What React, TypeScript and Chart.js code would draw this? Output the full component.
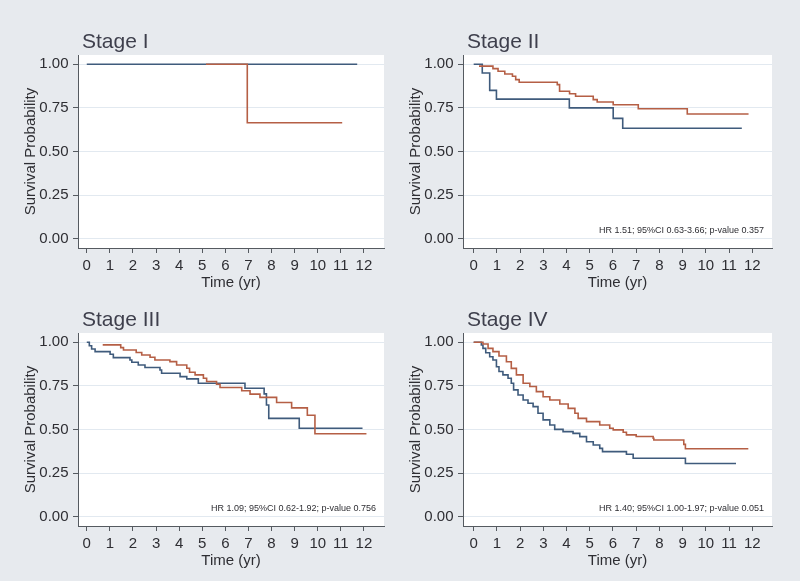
import React, { useEffect, useRef } from 'react';
import { Chart, registerables } from 'chart.js';

Chart.register(...registerables);

// ---------- data ----------
const X_TICKS = [0, 1, 2, 3, 4, 5, 6, 7, 8, 9, 10, 11, 12];
const Y_TICKS = [0, 0.25, 0.5, 0.75, 1];

const PANEL_TITLES = ['Stage I', 'Stage II', 'Stage III', 'Stage IV'];
const HR_NOTES = [
  '',
  'HR 1.51; 95%CI 0.63-3.66; p-value 0.357',
  'HR 1.09; 95%CI 0.62-1.92; p-value 0.756',
  'HR 1.40; 95%CI 1.00-1.97; p-value 0.051',
];
const X_AXIS_TITLE = 'Time (yr)';
const Y_AXIS_TITLE = 'Survival Probability';

// Stage I
const s1BlueT = [0, 11.71];
const s1BlueS = [1, 1];
const s1OrangeT = [5.16, 6.95, 11.06];
const s1OrangeS = [1, 0.665, 0.665];

// Stage II
const s2BlueT = [0, 0.37, 0.69, 0.98, 4.12, 6.01, 6.42, 11.55];
const s2BlueS = [1, 0.95, 0.85, 0.8, 0.75, 0.69, 0.633, 0.633];
const s2OrangeT = [0.23, 0.83, 1.05, 1.34, 1.67, 1.81, 1.96, 3.6, 3.7, 4.13, 4.39, 5.15, 5.32, 6.01, 7.09, 9.2, 11.84];
const s2OrangeS = [0.989, 0.975, 0.96, 0.944, 0.931, 0.912, 0.897, 0.883, 0.845, 0.831, 0.817, 0.797, 0.784, 0.768, 0.745, 0.715, 0.715];

// Stage III
const s3BlueT = [0, 0.11, 0.21, 0.36, 1.01, 1.15, 1.87, 1.95, 2.23, 2.52, 3.17, 3.24, 4.04, 4.33, 4.83, 6.85, 7.68, 7.78, 7.88, 9.2, 11.94];
const s3BlueS = [1, 0.98, 0.961, 0.946, 0.931, 0.912, 0.898, 0.885, 0.87, 0.855, 0.841, 0.822, 0.803, 0.79, 0.765, 0.736, 0.704, 0.64, 0.564, 0.507, 0.507];
const s3OrangeT = [0.69, 1.47, 1.59, 2.14, 2.38, 2.74, 2.95, 3.6, 3.89, 4.33, 4.45, 4.69, 5.05, 5.19, 5.62, 5.77, 6.71, 7.07, 7.5, 8.22, 8.87, 9.55, 9.88, 12.11];
const s3OrangeS = [0.985, 0.969, 0.956, 0.941, 0.927, 0.914, 0.898, 0.889, 0.87, 0.851, 0.828, 0.813, 0.794, 0.775, 0.759, 0.741, 0.722, 0.703, 0.684, 0.655, 0.624, 0.582, 0.476, 0.476];

// Stage IV
const s4BlueT = [0, 0.33, 0.4, 0.52, 0.69, 0.83, 0.98, 1.09, 1.26, 1.48, 1.62, 1.72, 1.91, 2.13, 2.34, 2.56, 2.77, 2.99, 3.28, 3.49, 3.85, 4.28, 4.57, 4.86, 5.15, 5.43, 5.55, 6.58, 6.87, 9.12, 11.3];
const s4BlueS = [1, 0.984, 0.965, 0.94, 0.917, 0.898, 0.86, 0.832, 0.813, 0.794, 0.765, 0.727, 0.698, 0.669, 0.65, 0.631, 0.593, 0.555, 0.526, 0.501, 0.488, 0.478, 0.459, 0.43, 0.411, 0.392, 0.373, 0.358, 0.335, 0.305, 0.305];
const s4OrangeT = [0, 0.4, 0.62, 0.83, 1.09, 1.41, 1.62, 1.84, 2.13, 2.42, 2.7, 2.99, 3.28, 3.71, 4.07, 4.36, 4.5, 4.86, 5.43, 5.86, 6.01, 6.44, 6.58, 7.0, 7.73, 7.76, 9.05, 9.12, 11.83];
const s4OrangeS = [1, 0.99, 0.965, 0.946, 0.921, 0.888, 0.85, 0.813, 0.765, 0.746, 0.717, 0.688, 0.669, 0.646, 0.621, 0.593, 0.564, 0.545, 0.526, 0.507, 0.498, 0.484, 0.469, 0.46, 0.45, 0.44, 0.415, 0.39, 0.39];

// ---------- styles ----------
const FAMILY = '"Liberation Sans", Arial, Helvetica, sans-serif';
const PAGE_BG = '#e7eaee';
const PLOT_BG = '#ffffff';
const GRID = '#e2e9f0';
const AXIS = '#555a60';
const TEXT = '#2e2e33';
const TITLE = '#3e3f4c';
const BLUE = '#3f5b7c';
const ORANGE = '#b55f45';

const toPoints = (t: number[], s: number[]) => t.map((x, i) => ({ x, y: s[i] }));

const plotBgPlugin = {
  id: 'plotBg',
  beforeDraw(chart: any) {
    const { ctx, chartArea } = chart;
    ctx.save();
    ctx.fillStyle = PLOT_BG;
    ctx.fillRect(chartArea.left, chartArea.top, chartArea.right - chartArea.left, chartArea.bottom - chartArea.top);
    ctx.restore();
  },
};

const panelTitlePlugin = {
  id: 'panelTitle',
  afterDraw(chart: any, _args: any, opts: any) {
    const text = opts && opts.text;
    if (!text) return;
    const { ctx, chartArea } = chart;
    ctx.save();
    ctx.font = `21px ${FAMILY}`;
    ctx.fillStyle = TITLE;
    ctx.textAlign = 'left';
    ctx.textBaseline = 'middle';
    ctx.fillText(text, chartArea.left + 4, chartArea.top - 13);
    ctx.restore();
  },
};

const notePlugin = {
  id: 'hrNote',
  afterDatasetsDraw(chart: any, _args: any, opts: any) {
    const text = opts && opts.text;
    if (!text) return;
    const { ctx, chartArea, scales } = chart;
    ctx.save();
    ctx.font = `9px ${FAMILY}`;
    ctx.fillStyle = TEXT;
    ctx.textAlign = 'right';
    ctx.textBaseline = 'middle';
    ctx.fillText(text, chartArea.right - 8, scales.y.getPixelForValue(0.05));
    ctx.restore();
  },
};

type PanelProps = {
  title: string;
  note: string;
  blueT: number[];
  blueS: number[];
  orangeT: number[];
  orangeS: number[];
  left: number;
  top: number;
  width: number;
  xMin: number;
  xMax: number;
};

function Panel(p: PanelProps) {
  const ref = useRef<HTMLCanvasElement | null>(null);
  useEffect(() => {
    if (!ref.current) return;
    const chart = new Chart(ref.current, {
      type: 'line',
      data: {
        datasets: [
          {
            data: toPoints(p.orangeT, p.orangeS),
            borderColor: ORANGE,
            borderWidth: 1.6,
            pointRadius: 0,
            stepped: true,
            fill: false,
          },
          {
            data: toPoints(p.blueT, p.blueS),
            borderColor: BLUE,
            borderWidth: 1.6,
            pointRadius: 0,
            stepped: true,
            fill: false,
          },
        ],
      },
      options: {
        responsive: false,
        animation: false,
        events: [],
        layout: { padding: { left: 0, right: 6, top: 55, bottom: 0 } },
        plugins: {
          legend: { display: false },
          tooltip: { enabled: false },
          title: { display: false },
          panelTitle: { text: p.title },
          hrNote: { text: p.note },
        } as any,
        scales: {
          x: {
            type: 'linear',
            min: p.xMin,
            max: p.xMax,
            afterBuildTicks: (axis: any) => {
              axis.ticks = X_TICKS.map((v) => ({ value: v }));
            },
            afterFit: (axis: any) => {
              axis.height = 44;
            },
            ticks: {
              autoSkip: false,
              maxRotation: 0,
              padding: 3.5,
              color: TEXT,
              font: { size: 15, family: FAMILY },
              callback: (v: any) => String(v),
            },
            grid: { drawOnChartArea: false, drawTicks: true, tickLength: 5, tickColor: AXIS, color: AXIS },
            border: { display: true, color: AXIS, width: 1 },
            title: {
              display: true,
              text: X_AXIS_TITLE,
              color: TEXT,
              font: { size: 15, family: FAMILY },
              padding: { top: 0, bottom: 0 },
            },
          },
          y: {
            type: 'linear',
            min: -0.053,
            max: 1.053,
            afterBuildTicks: (axis: any) => {
              axis.ticks = Y_TICKS.map((v) => ({ value: v }));
            },
            afterFit: (axis: any) => {
              axis.width = 78;
            },
            ticks: {
              padding: 4.5,
              color: TEXT,
              font: { size: 15, family: FAMILY },
              callback: (v: any) => Number(v).toFixed(2),
            },
            grid: { color: GRID, lineWidth: 1, drawTicks: true, tickLength: 5, tickColor: AXIS },
            border: { display: true, color: AXIS, width: 1 },
            title: {
              display: true,
              text: Y_AXIS_TITLE,
              color: TEXT,
              font: { size: 15, family: FAMILY },
              padding: { top: 22, bottom: 0 },
            },
          },
        },
      },
      plugins: [plotBgPlugin, notePlugin, panelTitlePlugin],
    } as any);
    return () => chart.destroy();
  }, []);
  return (
    <canvas
      ref={ref}
      width={p.width}
      height={292}
      style={{ position: 'absolute', left: p.left, top: p.top, width: p.width, height: 292 }}
    />
  );
}

export default function App() {
  return (
    <div
      style={{
        position: 'absolute',
        left: 0,
        top: 0,
        width: 800,
        height: 581,
        background: PAGE_BG,
        overflow: 'hidden',
      }}
    >
      <Panel title={PANEL_TITLES[0]} note={HR_NOTES[0]} blueT={s1BlueT} blueS={s1BlueS} orangeT={s1OrangeT} orangeS={s1OrangeS} left={0} top={0} width={390} xMin={-0.38} xMax={12.87} />
      <Panel title={PANEL_TITLES[1]} note={HR_NOTES[1]} blueT={s2BlueT} blueS={s2BlueS} orangeT={s2OrangeT} orangeS={s2OrangeS} left={385} top={0} width={393} xMin={-0.46} xMax={12.85} />
      <Panel title={PANEL_TITLES[2]} note={HR_NOTES[2]} blueT={s3BlueT} blueS={s3BlueS} orangeT={s3OrangeT} orangeS={s3OrangeS} left={0} top={278} width={390} xMin={-0.38} xMax={12.87} />
      <Panel title={PANEL_TITLES[3]} note={HR_NOTES[3]} blueT={s4BlueT} blueS={s4BlueS} orangeT={s4OrangeT} orangeS={s4OrangeS} left={385} top={278} width={393} xMin={-0.46} xMax={12.85} />
    </div>
  );
}
